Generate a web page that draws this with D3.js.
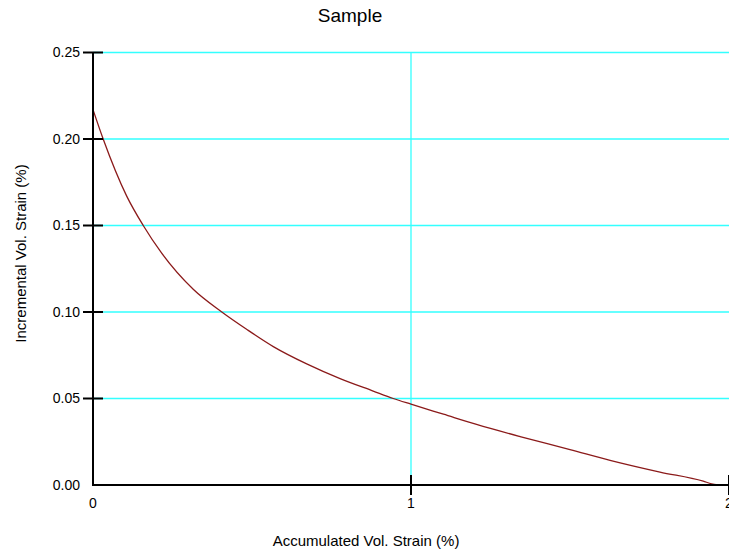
<!DOCTYPE html>
<html>
<head>
<meta charset="utf-8">
<script src="https://cdn.jsdelivr.net/npm/d3@7"></script>
<style>
  html, body { margin: 0; padding: 0; background: #fff; }
  svg { display: block; font-family: "Liberation Sans", Arial, sans-serif; }
</style>
</head>
<body>
<svg id="chart" width="729" height="550"></svg>
<script>
// ---- data ----
const accumulated = [0, 0.032, 0.106, 0.158, 0.216, 0.316, 0.405, 0.483, 0.567, 0.672, 0.777, 0.881, 0.944, 1.0, 1.102, 1.206, 1.343, 1.5, 1.626, 1.783, 1.919, 1.945, 1.965];
const incremental = [0.217, 0.200, 0.167, 0.150, 0.134, 0.113, 0.100, 0.090, 0.080, 0.070, 0.0615, 0.0543, 0.050, 0.0467, 0.0409, 0.0350, 0.0280, 0.0205, 0.0143, 0.0075, 0.0022, 0.0007, 0.0];
const xTicks = [0, 1, 2];
const xTickLabels = ["0", "1", "2"];
const yTicks = [0, 0.05, 0.10, 0.15, 0.20, 0.25];
const yTickLabels = ["0.00", "0.05", "0.10", "0.15", "0.20", "0.25"];
const chartTitle = "Sample";
const xTitle = "Accumulated Vol. Strain (%)";
const yTitle = "Incremental Vol. Strain (%)";

// ---- layout ----
const svg = d3.select("#chart");
const mLeft = 93, mRight = 729, mTop = 52.5, mBottom = 485;
const x = d3.scaleLinear().domain([0, 2]).range([mLeft, mRight]);
const y = d3.scaleLinear().domain([0, 0.25]).range([mBottom, mTop]);

// gridlines
const grid = svg.append("g").attr("stroke", "#33ffff").attr("stroke-width", 1.3);
yTicks.filter(v => v > 0).forEach(v => {
  grid.append("line").attr("x1", mLeft).attr("x2", mRight).attr("y1", y(v)).attr("y2", y(v));
});
xTicks.filter(v => v > 0 && v < 2).forEach(v => {
  grid.append("line").attr("x1", x(v)).attr("x2", x(v)).attr("y1", mTop).attr("y2", mBottom);
});

// curve
const pts = accumulated.map((a, i) => [a, incremental[i]]);
svg.append("path")
  .datum(pts)
  .attr("fill", "none")
  .attr("stroke", "#8b1a1a")
  .attr("stroke-width", 1.3)
  .attr("d", d3.line().x(d => x(d[0])).y(d => y(d[1])).curve(d3.curveMonotoneX));

// axes lines
const ax = svg.append("g").attr("stroke", "#000").attr("stroke-width", 2);
ax.append("line").attr("x1", mLeft).attr("x2", mLeft).attr("y1", mTop).attr("y2", mBottom + 1);
ax.append("line").attr("x1", mLeft - 1).attr("x2", mRight).attr("y1", mBottom).attr("y2", mBottom);
yTicks.filter(v => v > 0).forEach(v => {
  ax.append("line").attr("x1", mLeft - 10).attr("x2", mLeft + 10).attr("y1", y(v)).attr("y2", y(v));
});
xTicks.filter(v => v > 0).forEach(v => {
  ax.append("line").attr("x1", x(v)).attr("x2", x(v)).attr("y1", mBottom - 10).attr("y2", mBottom + 10);
});

// tick labels
svg.append("g").selectAll("text").data(yTicks).join("text")
  .attr("x", mLeft - 13).attr("y", d => y(d)).attr("dy", "0.35em")
  .attr("text-anchor", "end").attr("font-size", 14).attr("fill", "#000")
  .text((d, i) => yTickLabels[i]);
svg.append("g").selectAll("text").data(xTicks).join("text")
  .attr("x", d => x(d)).attr("y", 508)
  .attr("text-anchor", "middle").attr("font-size", 14).attr("fill", "#000")
  .text((d, i) => xTickLabels[i]);

// titles
svg.append("text").attr("x", 350).attr("y", 22).attr("text-anchor", "middle")
  .attr("font-size", 19).attr("fill", "#000").text(chartTitle);
svg.append("text").attr("x", 366).attr("y", 546).attr("text-anchor", "middle")
  .attr("font-size", 15).attr("fill", "#000").text(xTitle);
svg.append("text").attr("transform", "translate(26,253.5) rotate(-90)").attr("text-anchor", "middle")
  .attr("font-size", 15).attr("fill", "#000").text(yTitle);
</script>
</body>
</html>
